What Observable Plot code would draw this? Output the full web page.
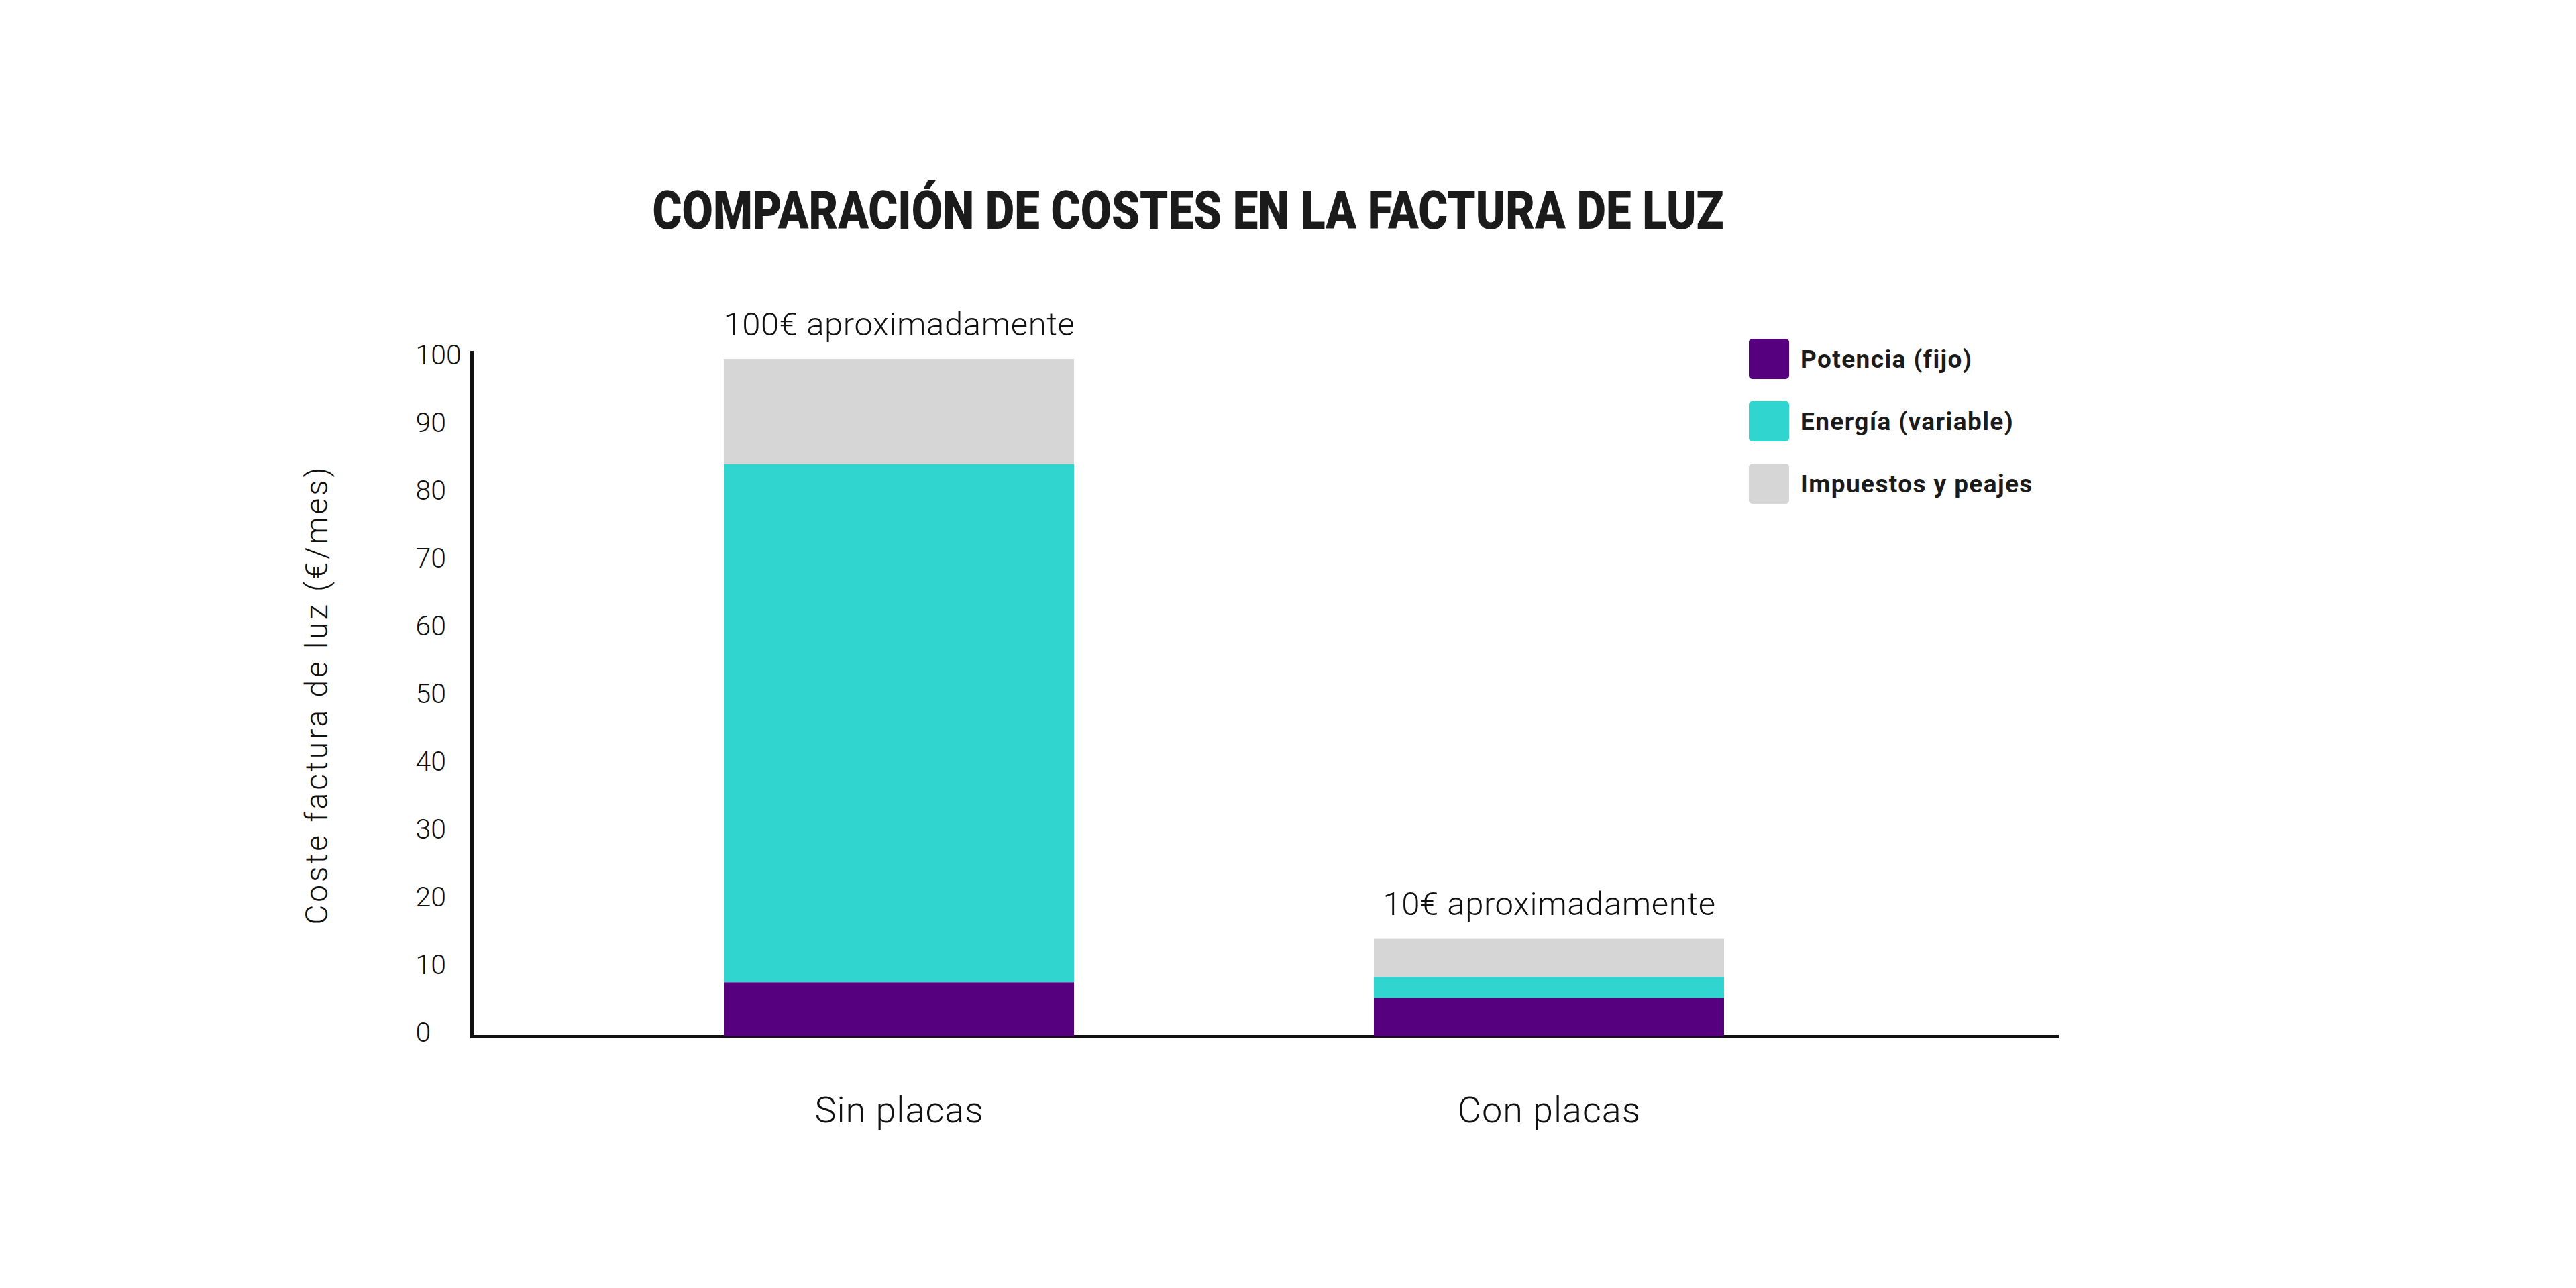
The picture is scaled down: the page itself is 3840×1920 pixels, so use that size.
<!DOCTYPE html>
<html lang="es">
<head>
<meta charset="utf-8">
<title>Comparación de costes en la factura de luz</title>
<script src="https://cdn.jsdelivr.net/npm/d3@7"></script>
<script src="https://cdn.jsdelivr.net/npm/@observablehq/plot@0.6"></script>
<style>
  html, body { margin: 0; padding: 0; background: #ffffff; }
  #lienzo { position: relative; width: 3840px; height: 1920px; overflow: hidden; background: #ffffff; }
  #titulo {
    position: absolute; left: 1771px; top: 274px;
    font-family: Roboto, "Noto Sans", sans-serif; font-weight: 900; font-size: 80px; line-height: 1;
    color: #1b1b1b; white-space: nowrap;
    transform-origin: center top;
  }
  #leyenda {
    position: absolute; left: 2607px; top: 505px;
    display: flex; flex-direction: column; gap: 33px;
    font-family: Roboto, "Noto Sans", sans-serif; font-weight: 700; font-size: 37px;
    letter-spacing: 1.4px; color: #1b1b1b;
  }
  .item { display: flex; align-items: center; height: 60px; }
  .muestra { width: 60px; height: 60px; border-radius: 5px; margin-right: 17px; flex: none; }
  #grafico { position: absolute; left: 0; top: 0; }
  #grafico svg { overflow: visible; }
  g[aria-label="y-axis label"] text { font-size: 46px; letter-spacing: 4px; }
  g[aria-label="x-axis tick label"] text { letter-spacing: 1px; }
  g[aria-label="text"] text { letter-spacing: 0.6px; }
</style>
</head>
<body>
<div id="lienzo">
  <div id="grafico"></div>
  <div id="titulo">COMPARACIÓN DE COSTES EN LA FACTURA DE LUZ</div>
  <div id="leyenda"></div>
</div>
<script>
// Categorías del eje X y componentes de la factura (orden de apilado, de abajo arriba)
const placas = ["Sin placas", "Con placas"];
const componentes = ["Potencia (fijo)", "Energía (variable)", "Impuestos y peajes"];

// Coste mensual de cada componente (€/mes), en el orden de `placas`
const potencia = [8, 5.7];
const energia = [76.5, 3.1];
const impuestos = [15.5, 5.6];

// Colores de cada componente
const colores = ["#57007f", "#31d5d0", "#d6d6d6"];

// Marcas del eje Y
const ticksY = [0, 10, 20, 30, 40, 50, 60, 70, 80, 90, 100];

const series = [potencia, energia, impuestos];
const filas = placas.flatMap((p, i) =>
  componentes.map((c, j) => ({placas: p, componente: c, valor: series[j][i]}))
);
const totales = placas.map((p, i) => ({placas: p, total: d3.sum(series, s => s[i])}));

// Total redondeado a una cifra significativa para la etiqueta "aproximadamente"
const aprox = d3.format(".1r");

const chart = Plot.plot({
  width: 3840,
  height: 1920,
  marginTop: 525,
  marginBottom: 375,
  marginLeft: 703,
  marginRight: 771,
  style: {fontFamily: "Roboto, 'Noto Sans', sans-serif", fontWeight: 300, color: "#111111", background: "transparent"},
  x: {domain: placas, paddingInner: 0.4616, paddingOuter: 0.451, align: 0.43},
  y: {domain: [0, 101]},
  color: {domain: componentes, range: colores},
  marks: [
    Plot.ruleY([0], {stroke: "#111111", strokeWidth: 5}),
    Plot.barY(filas, {x: "placas", y: "valor", fill: "componente"}),
    Plot.frame({anchor: "left", stroke: "#111111", strokeWidth: 5}),
    Plot.axisY({
      ticks: ticksY, tickSize: 0, tickPadding: 84, textAnchor: "start", dy: -6,
      fontSize: 41, label: "Coste factura de luz (€/mes)", labelAnchor: "center", labelOffset: 248, labelArrow: "none"
    }),
    Plot.axisX({tickSize: 0, tickPadding: 89, fontSize: 54, label: null}),
    Plot.text(totales, {
      x: "placas", y: "total",
      text: d => `${aprox(d.total)}€ aproximadamente`,
      lineAnchor: "bottom", dy: -36, fontSize: 49, fill: "#111111"
    })
  ]
});
document.getElementById("grafico").append(chart);

// Leyenda
const leyenda = d3.select("#leyenda");
componentes.forEach((c, j) => {
  const it = leyenda.append("div").attr("class", "item");
  it.append("div").attr("class", "muestra").style("background", colores[j]);
  it.append("span").text(c);
});

// Título ajustado a su ancho
const titulo = document.getElementById("titulo");
const ancho = titulo.getBoundingClientRect().width;
titulo.style.transform = `translateX(-50%) scaleX(${1597 / ancho})`;
</script>
</body>
</html>
